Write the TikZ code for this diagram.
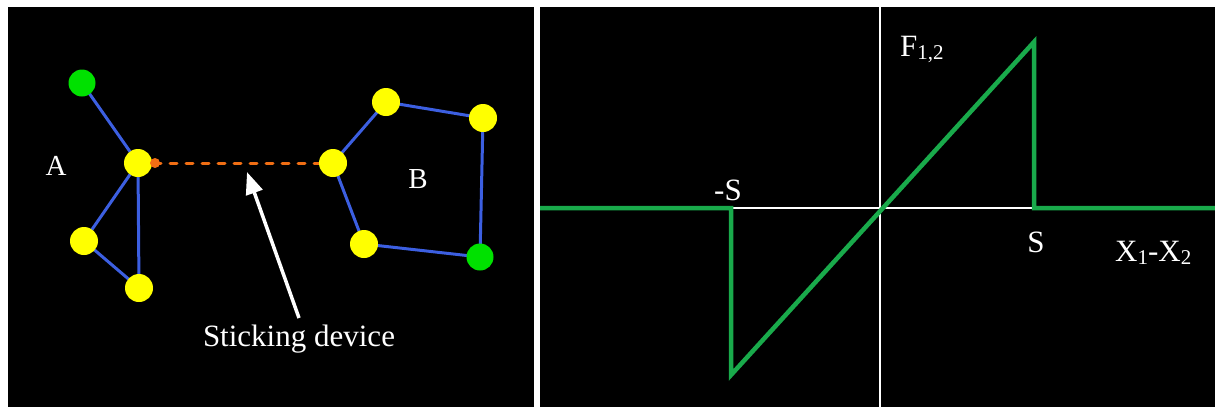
\documentclass[tikz,border=0pt]{standalone}
\usepackage{fontspec}
\setmainfont{Liberation Serif}
\usetikzlibrary{arrows.meta}
\definecolor{edgeblue}{RGB}{60,95,225}
\definecolor{nodeyellow}{RGB}{255,255,0}
\definecolor{nodegreen}{RGB}{0,225,0}
\definecolor{stickorange}{RGB}{240,110,20}
\definecolor{plotgreen}{RGB}{25,170,75}
\newcommand{\mysub}[1]{\raisebox{-3.5pt}{\fontsize{21}{24}\selectfont #1}}
\begin{document}
\begin{tikzpicture}[x=1pt,y=-1pt,
  atom/.style={circle,fill=nodeyellow,minimum size=28pt,inner sep=0pt},
  gatom/.style={circle,fill=nodegreen,minimum size=27pt,inner sep=0pt},
  bond/.style={draw=edgeblue,line width=3pt},
  lbl/.style={text=white,font=\fontsize{29}{32}\selectfont,anchor=base,inner sep=0pt},
  plbl/.style={text=white,font=\fontsize{31}{34}\selectfont,anchor=base,inner sep=0pt},
  axis/.style={draw=white,line width=2.5pt},
  curve/.style={draw=plotgreen,line width=4.5pt,line join=miter}]
\useasboundingbox (0,0) rectangle (1215,407);
\fill[white] (0,0) rectangle (1215,407);
\fill[black] (8,7) rectangle (534,407);
\fill[black] (540,7) rectangle (1215,407);
% left panel
\coordinate (ga1) at (82,83);
\coordinate (a0) at (138,163);
\coordinate (a1) at (84,241);
\coordinate (a2) at (139,288);
\coordinate (b0) at (333,163);
\coordinate (b1) at (386,102);
\coordinate (b2) at (483,118);
\coordinate (gb) at (480,257);
\coordinate (b3) at (364,244);
\draw[bond] (ga1)--(a0) (a0)--(a1)--(a2)--(a0);
\draw[bond] (b0)--(b1)--(b2)--(gb)--(b3)--cycle;
\draw[stickorange,line width=3pt,dash pattern=on 7pt off 9pt,line cap=round] (a0) -- (b0);
\node[gatom] (nga1) at (ga1) {};
\node[atom] (na0) at (a0) {};
\node[atom] (na1) at (a1) {};
\node[atom] (na2) at (a2) {};
\node[atom] (nb0) at (b0) {};
\node[atom] (nb1) at (b1) {};
\node[atom] (nb2) at (b2) {};
\node[gatom] (ngb) at (gb) {};
\node[atom] (nb3) at (b3) {};
\node[circle,fill=stickorange,minimum size=10pt,inner sep=0pt] (dot) at (155,163) {};
\node[lbl] (A) at (56,175) {A};
\node[lbl] (B) at (418,188) {B};
\node[plbl] (stick) at (299,346) {Sticking device};
\coordinate (tail) at (299,318);
\coordinate (tip) at (247,172);
\draw[white,line width=3.5pt,-{Triangle[length=22pt,width=17pt]}] (tail) -- (tip);
% right panel
\coordinate (xl) at (540,208);
\coordinate (xr) at (1215,208);
\coordinate (yt) at (880,7);
\coordinate (yb) at (880,407);
\draw[axis] (xl) -- (xr);
\draw[axis] (yt) -- (yb);
\coordinate (ms) at (731,208);
\coordinate (mslow) at (731,375);
\coordinate (ps) at (1034,208);
\coordinate (pshigh) at (1034,42);
\draw[curve] (xl) -- (ms) -- (mslow) -- (pshigh) -- (ps) -- (xr);
\node[plbl] (lms) at (728,200) {-S};
\node[plbl] (lps) at (1036,252) {S};
\node[plbl,anchor=base west] (lf) at (900,56) {F\mysub{1,2}};
\node[plbl,anchor=base west] (lx) at (1115,261) {X\mysub{1}-X\mysub{2}};
\end{tikzpicture}
\end{document}
